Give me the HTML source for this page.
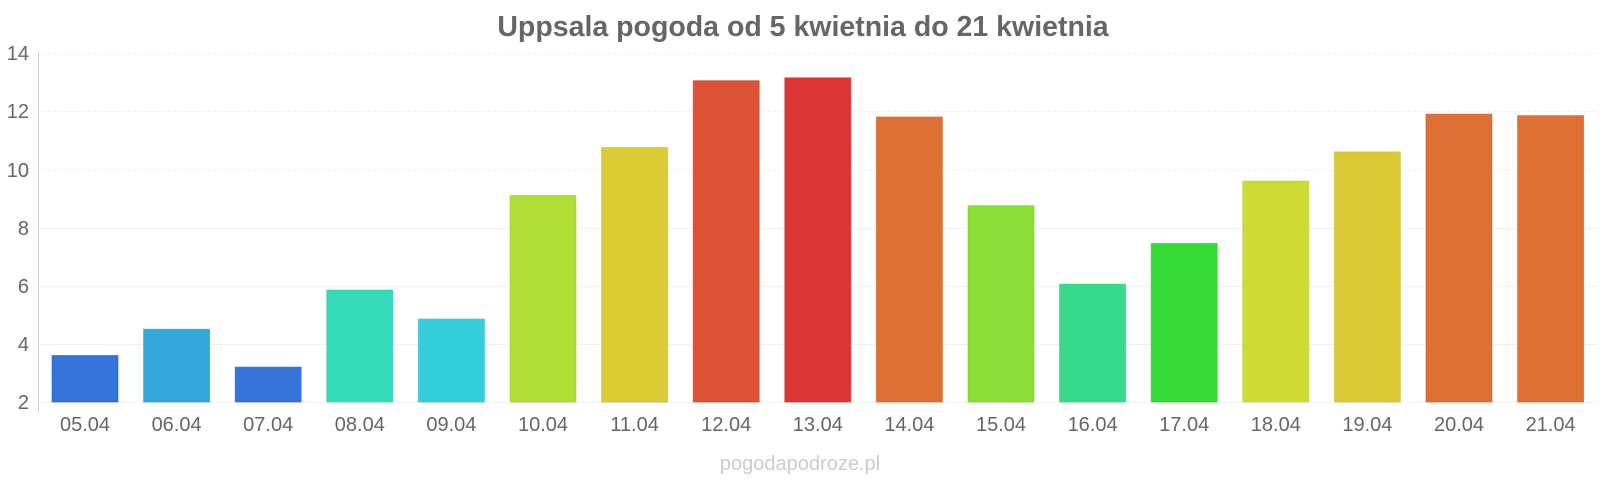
<!DOCTYPE html>
<html><head><meta charset="utf-8"><style>
html,body{margin:0;padding:0;background:#fff;}
svg{display:block;font-family:"Liberation Sans",sans-serif;}
</style></head><body>
<svg width="1600" height="480" viewBox="0 0 1600 480" xmlns="http://www.w3.org/2000/svg">
<text x="803" y="36" text-anchor="middle" font-size="28.5" font-weight="bold" fill="#666">Uppsala pogoda od 5 kwietnia do 21 kwietnia</text>
<g stroke="#f0f0f0" stroke-width="1">
<line x1="38" x2="1598" y1="53.5" y2="53.5" stroke-dasharray="3,2"/>
<line x1="38" x2="1598" y1="111.5" y2="111.5" stroke-dasharray="3,2"/>
<line x1="38" x2="1598" y1="170.5" y2="170.5" stroke-dasharray="3,2"/>
<line x1="38" x2="1598" y1="228.5" y2="228.5"/>
<line x1="38" x2="1598" y1="286.5" y2="286.5"/>
<line x1="38" x2="1598" y1="344.5" y2="344.5"/>
<line x1="38" x2="1598" y1="402.5" y2="402.5"/>
</g>
<line x1="38.5" x2="38.5" y1="53" y2="412" stroke="#ccc"/>
<g font-size="20" fill="#666" text-anchor="end">
<text x="29" y="60">14</text><text x="29" y="118">12</text><text x="29" y="177">10</text>
<text x="29" y="235">8</text><text x="29" y="293">6</text><text x="29" y="351">4</text><text x="29" y="409">2</text>
</g>
<g stroke-width="1" stroke-opacity="0.6">
<rect x="52" y="355.5" width="66" height="46.5" fill="#3474db" stroke="#2a66cc"/>
<rect x="143.6" y="329.3" width="66" height="72.7" fill="#35a7db" stroke="#2a98cc"/>
<rect x="235.2" y="367.1" width="66" height="34.9" fill="#3474db" stroke="#2a66cc"/>
<rect x="326.8" y="290" width="66" height="112" fill="#35dbb8" stroke="#2accaa"/>
<rect x="418.4" y="319.1" width="66" height="82.9" fill="#35cfdb" stroke="#2ac0cc"/>
<rect x="510" y="195.5" width="66" height="206.5" fill="#b0de35" stroke="#a0cc2a"/>
<rect x="601.6" y="147.5" width="66" height="254.5" fill="#dbcb35" stroke="#ccbb2a"/>
<rect x="693.2" y="80.7" width="66" height="321.3" fill="#de5335" stroke="#cc452a"/>
<rect x="784.8" y="77.8" width="66" height="324.2" fill="#dc3535" stroke="#cc2a2a"/>
<rect x="876.4" y="117" width="66" height="285" fill="#de6f35" stroke="#cc602a"/>
<rect x="968" y="205.7" width="66" height="196.3" fill="#8bde35" stroke="#7ccc2a"/>
<rect x="1059.6" y="284.2" width="66" height="117.8" fill="#35db8b" stroke="#2acc7c"/>
<rect x="1151.2" y="243.5" width="66" height="158.5" fill="#35db35" stroke="#2acc2a"/>
<rect x="1242.8" y="181" width="66" height="221" fill="#cfdb35" stroke="#c0cc2a"/>
<rect x="1334.4" y="151.9" width="66" height="250.1" fill="#dbca35" stroke="#ccba2a"/>
<rect x="1426" y="114.1" width="66" height="287.9" fill="#de6f35" stroke="#cc602a"/>
<rect x="1517.6" y="115.6" width="66" height="286.4" fill="#de6f35" stroke="#cc602a"/>
</g>
<g font-size="20" fill="#666" text-anchor="middle">
<text x="85" y="431">05.04</text>
<text x="176.6" y="431">06.04</text>
<text x="268.2" y="431">07.04</text>
<text x="359.8" y="431">08.04</text>
<text x="451.4" y="431">09.04</text>
<text x="543" y="431">10.04</text>
<text x="634.6" y="431">11.04</text>
<text x="726.2" y="431">12.04</text>
<text x="817.8" y="431">13.04</text>
<text x="909.4" y="431">14.04</text>
<text x="1001" y="431">15.04</text>
<text x="1092.6" y="431">16.04</text>
<text x="1184.2" y="431">17.04</text>
<text x="1275.8" y="431">18.04</text>
<text x="1367.4" y="431">19.04</text>
<text x="1459" y="431">20.04</text>
<text x="1550.6" y="431">21.04</text>
</g>
<text x="800" y="470" text-anchor="middle" font-size="20" fill="#ccc">pogodapodroze.pl</text>
</svg>
</body></html>
